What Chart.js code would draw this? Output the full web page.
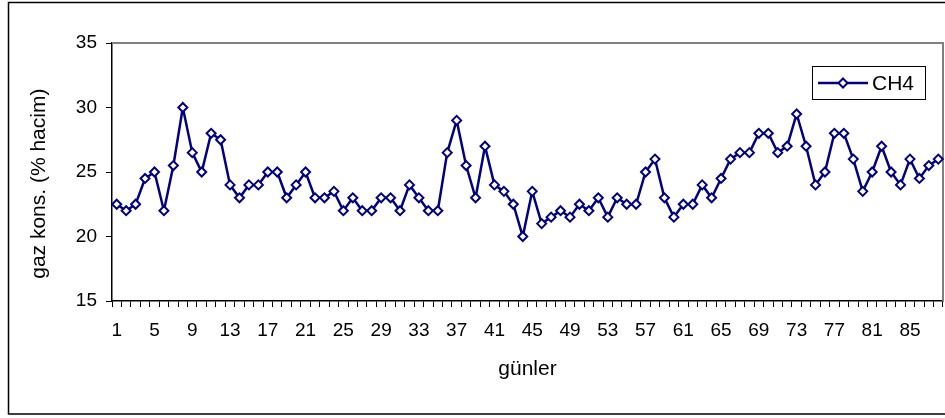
<!DOCTYPE html>
<html>
<head>
<meta charset="utf-8">
<script src="https://cdn.jsdelivr.net/npm/chart.js@4.4.0/dist/chart.umd.min.js"></script>
<style>
  html, body { margin: 0; padding: 0; background: #fff; }
</style>
</head>
<body>
<canvas id="myChart" width="945" height="418"></canvas>
<script>
// days (categories)
var days = [1, 2, 3, 4, 5, 6, 7, 8, 9, 10, 11, 12, 13, 14, 15, 16, 17, 18, 19, 20,
            21, 22, 23, 24, 25, 26, 27, 28, 29, 30, 31, 32, 33, 34, 35, 36, 37, 38, 39, 40,
            41, 42, 43, 44, 45, 46, 47, 48, 49, 50, 51, 52, 53, 54, 55, 56, 57, 58, 59, 60,
            61, 62, 63, 64, 65, 66, 67, 68, 69, 70, 71, 72, 73, 74, 75, 76, 77, 78, 79, 80,
            81, 82, 83, 84, 85, 86, 87, 88];

// CH4 values (% volume)
var ch4 = [22.5, 22, 22.5, 24.5, 25, 22, 25.5, 30, 26.5, 25,
           28, 27.5, 24, 23, 24, 24, 25, 25, 23, 24,
           25, 23, 23, 23.5, 22, 23, 22, 22, 23, 23,
           22, 24, 23, 22, 22, 26.5, 29, 25.5, 23, 27,
           24, 23.5, 22.5, 20, 23.5, 21, 21.5, 22, 21.5, 22.5,
           22, 23, 21.5, 23, 22.5, 22.5, 25, 26, 23, 21.5,
           22.5, 22.5, 24, 23, 24.5, 26, 26.5, 26.5, 28, 28,
           26.5, 27, 29.5, 27, 24, 25, 28, 28, 26, 23.5,
           25, 27, 25, 24, 26, 24.5, 25.5, 26];

// labels printed under the x axis
var shownDays = [1, 5, 9, 13, 17, 21, 25, 29, 33, 37, 41, 45, 49, 53, 57, 61, 65, 69, 73, 77, 81, 85];

var yTicks = [15, 20, 25, 30, 35];

var navy = '#000080';

var decor = {
    id: 'decor',
    beforeDraw: function(chart) {
        var c = chart.ctx;
        c.save();
        c.strokeStyle = '#000';
        c.lineWidth = 1.5;
        c.strokeRect(8.5, 2.5, 960, 411.5);
        c.restore();
    },
    beforeDatasetsDraw: function(chart) {
        var c = chart.ctx, a = chart.chartArea;
        c.save();
        c.strokeStyle = '#808080';
        c.lineWidth = 2;
        c.beginPath();
        c.moveTo(a.left, a.top);
        c.lineTo(a.right, a.top);
        c.lineTo(a.right, a.bottom);
        c.stroke();
        c.restore();
    },
    afterDraw: function(chart) {
        // legend box
        var c = chart.ctx;
        var ds = chart.data.datasets[0];
        c.save();
        c.fillStyle = '#fff';
        c.fillRect(812, 66, 113, 33);
        c.strokeStyle = '#000';
        c.lineWidth = 1;
        c.strokeRect(812.5, 66.5, 113, 33);
        c.strokeStyle = ds.borderColor;
        c.lineWidth = 2.5;
        c.beginPath();
        c.moveTo(818, 83);
        c.lineTo(868, 83);
        c.stroke();
        c.fillStyle = '#fff';
        c.lineWidth = 2;
        c.beginPath();
        c.moveTo(843, 78.5); c.lineTo(847.5, 83); c.lineTo(843, 87.5); c.lineTo(838.5, 83); c.closePath();
        c.fill(); c.stroke();
        c.fillStyle = '#000';
        c.font = '21px Arial, "Liberation Sans", sans-serif';
        c.textBaseline = 'middle';
        c.fillText(ds.label, 872, 84);
        c.restore();
    }
};

Chart.defaults.font.family = 'Arial, "Liberation Sans", sans-serif';
Chart.defaults.color = '#000';

var ctx = document.getElementById('myChart').getContext('2d');
var chart = new Chart(ctx, {
    type: 'line',
    data: {
        labels: days,
        datasets: [{
            label: 'CH4',
            data: ch4,
            borderColor: navy,
            backgroundColor: '#fff',
            borderWidth: 2.5,
            pointStyle: 'rectRot',
            pointRadius: 4.5,
            pointBorderWidth: 2,
            pointBackgroundColor: '#fff',
            pointBorderColor: navy,
            tension: 0,
            clip: 8
        }]
    },
    options: {
        responsive: false,
        animation: false,
        devicePixelRatio: 1,
        layout: {
            autoPadding: false,
            padding: { top: 43, right: 2, left: 0, bottom: 0 }
        },
        plugins: {
            legend: { display: false },
            tooltip: { enabled: false }
        },
        scales: {
            x: {
                type: 'category',
                offset: true,
                afterFit: function(s) {
                    s.height = 117;
                    s.paddingLeft = 0;
                    s.paddingRight = 0;
                },
                grid: {
                    display: true,
                    offset: true,
                    drawOnChartArea: false,
                    drawTicks: true,
                    tickLength: 6,
                    color: '#000',
                    tickColor: '#000',
                    lineWidth: 1,
                    tickWidth: 1
                },
                border: { display: true, color: '#000', width: 1.5 },
                ticks: {
                    autoSkip: false,
                    maxRotation: 0,
                    minRotation: 0,
                    padding: 0,
                    font: { size: 19, lineHeight: '16px' },
                    callback: function(v, i) {
                        var d = days[i];
                        // empty first line pushes the number down, away from the axis
                        return shownDays.indexOf(d) >= 0 ? ['', String(d)] : '';
                    }
                },
                title: {
                    display: true,
                    text: 'günler',
                    font: { size: 21 },
                    padding: { top: 0, bottom: 36 }
                }
            },
            y: {
                min: yTicks[0],
                max: yTicks[yTicks.length - 1],
                afterFit: function(s) { s.width = 112; },
                afterBuildTicks: function(s) {
                    s.ticks = yTicks.map(function(v) { return { value: v }; });
                },
                grid: {
                    drawOnChartArea: false,
                    drawTicks: true,
                    tickLength: 6,
                    color: '#000'
                },
                border: { display: true, color: '#000', width: 1.5 },
                ticks: {
                    padding: 9,
                    font: { size: 19 }
                },
                title: {
                    display: true,
                    text: 'gaz kons. (% hacim)    ',
                    font: { size: 21 },
                    padding: { top: 27, bottom: 0 }
                }
            }
        }
    },
    plugins: [decor]
});
</script>
</body>
</html>
